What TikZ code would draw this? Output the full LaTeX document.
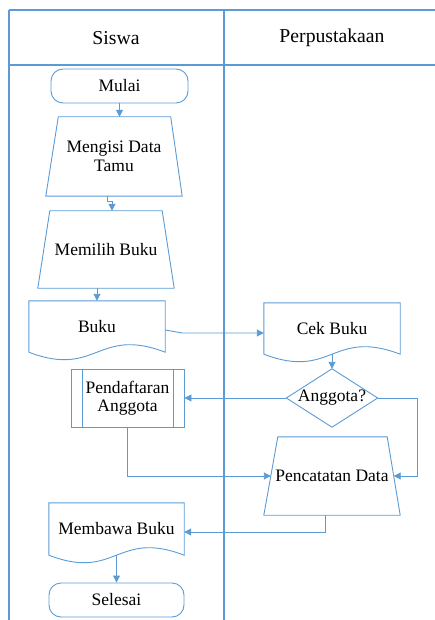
\documentclass[tikz,border=0pt]{standalone}
\usepackage{fontspec}
\setmainfont{Liberation Serif}
\usetikzlibrary{arrows.meta,calc}
\definecolor{lineblue}{HTML}{5B9BD5}
\begin{document}
\begin{tikzpicture}[x=1pt,y=-1pt,
  base/.style={rectangle, inner sep=0pt, align=center, text=black,
    font=\fontsize{17.5}{18.5}\selectfont},
  box/.style 2 args={base, minimum width=#1, minimum height=#2},
  outline/.style={draw=lineblue, line width=0.9pt},
  terminal/.style={outline, rounded corners=12pt},
  flow/.style={draw=lineblue, line width=0.9pt, -{Triangle[length=7pt,width=7pt]}},
  lane/.style={draw=lineblue, line width=1.4pt},
  title/.style={inner sep=0pt, font=\fontsize{19.7}{22}\selectfont}
]
\useasboundingbox (0,0) rectangle (435,620);

% swimlane frame
\draw[lane] (9,10) -- (435,10);
\draw[lane] (9,65) -- (435,65);
\draw[lane] (9,10) -- (9,620);
\draw[lane] (224,10) -- (224,620);
\node[title] (hsiswa) at (116,38) {Siswa};
\node[title] (hperpus) at (332,38) {Perpustakaan};

% Siswa lane
\node[box={137pt}{34pt}, terminal] (mulai) at (119.5,86) {Mulai};

\node[box={136pt}{79pt}] (mengisi) at (114,156.5) {Mengisi Data\\Tamu};
\draw[outline] ($(mengisi.north west)+(12.5,0)$) -- ($(mengisi.north east)+(-11.5,0)$)
  -- (mengisi.south east) -- (mengisi.south west) -- cycle;

\node[box={136pt}{77pt}] (memilih) at (106,249.5) {Memilih Buku};
\draw[outline] ($(memilih.north west)+(12,0)$) -- ($(memilih.north east)+(-12,0)$)
  -- (memilih.south east) -- (memilih.south west) -- cycle;

\node[box={136pt}{51pt}] (buku) at (97,326.5) {Buku};
\draw[outline] (buku.south west) -- (buku.north west) -- (buku.north east) -- (buku.south east)
  .. controls ($(buku.south east)!0.5!(buku.south west)+(0,-26)$)
  and ($(buku.south east)!0.5!(buku.south west)+(0,26)$) .. (buku.south west);

\node[box={113pt}{58pt}, outline] (pend) at (127.5,398) {Pendaftaran\\Anggota};
\draw[outline] ($(pend.north west)+(12,0)$) -- ($(pend.south west)+(12,0)$);
\draw[outline] ($(pend.north east)+(-11,0)$) -- ($(pend.south east)+(-11,0)$);

\node[box={135pt}{52pt}] (membawa) at (116.5,529) {Membawa Buku};
\draw[outline] (membawa.south west) -- (membawa.north west) -- (membawa.north east) -- (membawa.south east)
  .. controls ($(membawa.south east)!0.5!(membawa.south west)+(0,-26)$)
  and ($(membawa.south east)!0.5!(membawa.south west)+(0,26)$) .. (membawa.south west);

\node[box={135pt}{34pt}, terminal] (selesai) at (116.5,600) {Selesai};

% Perpustakaan lane
\node[box={136pt}{51pt}] (cek) at (332,328.5) {Cek Buku};
\draw[outline] (cek.south west) -- (cek.north west) -- (cek.north east) -- (cek.south east)
  .. controls ($(cek.south east)!0.5!(cek.south west)+(0,-26)$)
  and ($(cek.south east)!0.5!(cek.south west)+(0,26)$) .. (cek.south west);

\node[box={91pt}{58pt}] (dec) at (332,398) {Anggota?};
\draw[outline] (dec.north) -- (dec.east) -- (dec.south) -- (dec.west) -- cycle;

\node[box={136pt}{78pt}] (pc) at (332,476) {Pencatatan Data};
\draw[outline] ($(pc.north west)+(14,0)$) coordinate (pc-tl) -- ($(pc.north east)+(-13,0)$) coordinate (pc-tr)
  -- (pc.south east) -- (pc.south west) -- cycle;
\coordinate (pc-r) at ($(pc-tr)!0.5!(pc.south east)$);
\coordinate (pc-l) at ($(pc-tl)!0.5!(pc.south west)$);

% connectors
\draw[flow] (mulai.south) -- (mulai.south |- mengisi.north);
\draw[flow] ($(mengisi.south)+(-7,0)$) -- ++(0,5) -| ($(memilih.north)+(6,0)$);
\draw[flow] (buku.north |- memilih.south) -- (buku.north);
\draw[flow] ($(buku.east)+(0,3.5)$) -- ($(buku.east)+(17,6.5)$) -- ($(cek.west)+(0,4.5)$);
\draw[flow] (cek.south) -- (dec.north);
\draw[flow] (dec.west) -- (pend.east);
\draw[flow] (dec.east) -- ++(39.5,0) |- (pc-r);
\draw[flow] (pend.south) |- (pc-l);
\draw[flow] ($(pc.south)+(-7,0)$) |- ($(membawa.east)+(0,3)$);
\draw[flow] (membawa.south) -- (selesai.north);
\end{tikzpicture}
\end{document}
